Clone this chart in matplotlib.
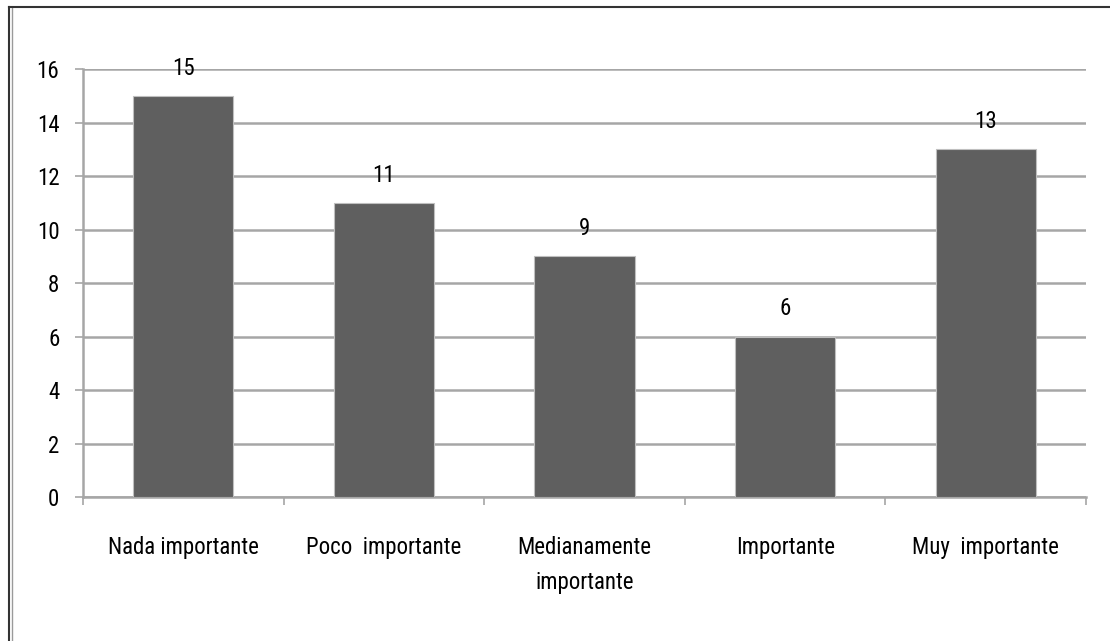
import matplotlib

matplotlib.use("Agg")
import matplotlib.pyplot as plt
from matplotlib.lines import Line2D
from matplotlib import font_manager

categories = ["Nada importante", "Poco  importante", "Medianamente\nimportante",
              "Importante", "Muy  importante"]
values = [15, 11, 9, 6, 13]
yticks = [0, 2, 4, 6, 8, 10, 12, 14, 16]

# narrow sans like Calibri in the original; take the first one installed
names = {f.name for f in font_manager.fontManager.ttflist}
for fam in ("Liberation Sans Narrow", "Roboto Condensed", "Open Sans Condensed", "Liberation Sans"):
    if fam in names:
        break
else:
    fam = "DejaVu Sans"
plt.rcParams["font.family"] = [fam, "DejaVu Sans"]
FS = 16.5

BAR = "#5f5f5f"
GRID = "#a6a6a6"

fig = plt.figure(figsize=(11.1, 6.41), dpi=100)
ax = fig.add_axes([0.0748, 0.2246, 0.9036, 0.6677])

x = list(range(len(categories)))
ax.bar(x, values, width=0.5, color=BAR, edgecolor="#bfbfbf", linewidth=0.8, zorder=3)

for xi, v in zip(x, values):
    ax.annotate(str(v), (xi, v), xytext=(0, 20), textcoords="offset points",
                ha="center", va="center", fontsize=FS, color="black", zorder=4)

ax.set_xlim(-0.5, len(categories) - 0.5)
ax.set_ylim(0, 16)
ax.set_yticks(yticks)
ax.set_yticklabels([str(t) for t in yticks], fontsize=FS)
ax.yaxis.grid(True, color=GRID, linewidth=1.8, zorder=0)
ax.tick_params(axis="y", length=6, width=1.2, color=GRID, pad=11)

ax.set_xticks(x)
ax.set_xticklabels(categories, fontsize=FS, linespacing=1.65, va="top")
ax.tick_params(axis="x", which="major", length=0, pad=28)
ax.set_xticks([i + 0.5 for i in range(-1, len(categories))], minor=True)
ax.tick_params(axis="x", which="minor", length=6, width=1.2, color=GRID, direction="out")

for side in ("top", "right"):
    ax.spines[side].set_visible(False)
for side in ("left", "bottom"):
    ax.spines[side].set_color(GRID)
    ax.spines[side].set_linewidth(1.8)

# outer frame like the pasted Excel chart
fig.add_artist(Line2D([9 / 1110, 9 / 1110], [0, 1 - 7 / 641], color="#333333", lw=1.5))
fig.add_artist(Line2D([12 / 1110, 12 / 1110], [0, 1 - 8 / 641], color="#9a9a9a", lw=1.0))
fig.add_artist(Line2D([9 / 1110, 1], [1 - 7 / 641, 1 - 7 / 641], color="#333333", lw=1.5))

fig.savefig("out.png", dpi=100)
